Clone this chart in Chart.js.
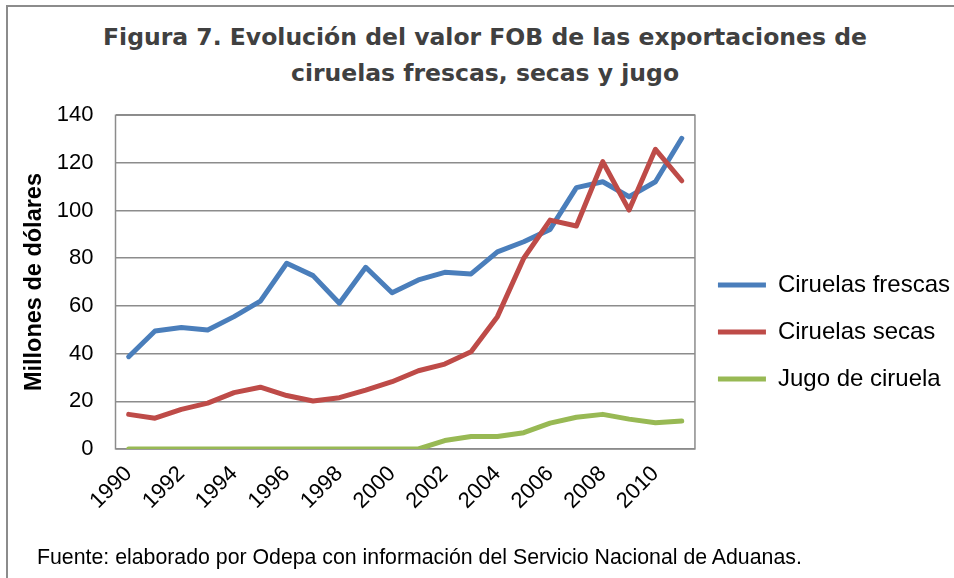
<!DOCTYPE html>
<html lang="es">
<head>
  <meta charset="UTF-8" />
  <title>Figura 7. Exportaciones de ciruelas</title>
  <script src="https://cdn.jsdelivr.net/npm/chart.js"></script>
  <style>
    html, body {
      margin: 0;
      padding: 0;
      background: #fff;
      overflow: hidden;
      width: 954px;
      height: 578px;
    }
    .frame {
      position: absolute;
      left: 6px;
      top: 5px;
      width: 960px;
      height: 590px;
      border-top: 2px solid #8c8c8c;
      border-left: 2px solid #8c8c8c;
    }
    .title {
      position: absolute;
      left: 0;
      top: 18.5px;
      width: 970px;
      text-align: center;
      font-family: "DejaVu Sans", sans-serif;
      font-weight: bold;
      font-size: 23.5px;
      line-height: 36px;
      color: #404040;
    }
    .chart-box {
      position: absolute;
      left: 0;
      top: 80px;
      width: 954px;
      height: 498px;
    }
    .source {
      position: absolute;
      left: 37px;
      top: 545px;
      font-family: "Liberation Sans", Arial, sans-serif;
      font-size: 21.3px;
      color: #000;
    }
  </style>
</head>
<body>
  <div class="frame"></div>
  <div class="title">Figura 7. Evolución del valor FOB de las exportaciones de<br>ciruelas frescas, secas y jugo</div>
  <div class="chart-box"><canvas id="chart"></canvas></div>
  <div class="source">Fuente: elaborado por Odepa con información del Servicio Nacional de Aduanas.</div>

  <script>
    // years and values (millones de dólares)
    const years = ['1990', '1991', '1992', '1993', '1994', '1995', '1996', '1997', '1998', '1999', '2000',
                   '2001', '2002', '2003', '2004', '2005', '2006', '2007', '2008', '2009', '2010', '2011'];
    const frescas = [38.7, 49.5, 50.9, 49.9, 55.5, 62.0, 77.9, 72.7, 61.1, 76.2, 65.5,
                     70.9, 74.1, 73.4, 82.7, 86.9, 92.1, 109.6, 112.1, 105.8, 112.1, 130.3];
    const secas = [14.5, 12.9, 16.6, 19.2, 23.6, 25.9, 22.4, 20.1, 21.5, 24.7, 28.2,
                   32.8, 35.6, 40.8, 55.5, 80.0, 96.0, 93.5, 120.5, 100.2, 125.7, 112.5];
    const jugo = [0, 0, 0, 0, 0, 0, 0, 0, 0, 0, 0,
                  0, 3.5, 5.2, 5.2, 6.8, 10.8, 13.3, 14.5, 12.5, 11.0, 11.7];
    const seriesNames = ['Ciruelas frescas', 'Ciruelas secas', 'Jugo de ciruela'];
    const yTicks = [0, 20, 40, 60, 80, 100, 120, 140];

    const axisFont = { family: '"Liberation Sans", Arial, sans-serif', size: 22 };

    // box around the plot area, like Excel
    const plotBorder = {
      id: 'plotBorder',
      beforeDatasetsDraw(chart) {
        const { ctx, chartArea: a } = chart;
        ctx.save();
        ctx.strokeStyle = '#8c8c8c';
        ctx.lineWidth = 1.5;
        ctx.strokeRect(a.left, a.top, a.right - a.left, a.bottom - a.top);
        ctx.restore();
      }
    };

    const line = (label, data, color, order) => ({
      label,
      data,
      borderColor: color,
      backgroundColor: color,
      borderWidth: 5,
      borderCapStyle: 'round',
      borderJoinStyle: 'round',
      pointRadius: 0,
      fill: false,
      tension: 0,
      order
    });

    new Chart(document.getElementById('chart'), {
      type: 'line',
      data: {
        labels: years,
        datasets: [
          line(seriesNames[0], frescas, '#4a7ebb', 3),
          line(seriesNames[1], secas, '#be4b48', 2),
          line(seriesNames[2], jugo, '#98b954', 1)
        ]
      },
      plugins: [plotBorder],
      options: {
        responsive: true,
        maintainAspectRatio: false,
        animation: false,
        layout: { padding: { left: 20, top: 0, right: -6, bottom: 51.8 } },
        plugins: {
          title: { display: false },
          tooltip: { enabled: false },
          legend: {
            position: 'right',
            maxWidth: 320,
            // blank legend title only pushes the entries down
            title: { display: true, text: ' ', font: { size: 10 }, padding: { top: 22.9, bottom: 22.9 } },
            labels: {
              usePointStyle: true,
              pointStyle: 'line',
              pointStyleWidth: 48,
              padding: 23,
              color: '#000',
              font: { family: '"Liberation Sans", Arial, sans-serif', size: 24 },
              sort: (a, b) => a.datasetIndex - b.datasetIndex
            }
          }
        },
        scales: {
          x: {
            offset: true,
            grid: { display: false, drawTicks: false },
            border: { display: false },
            ticks: {
              autoSkip: false,
              maxRotation: 45,
              minRotation: 45,
              padding: 12,
              color: '#000',
              font: axisFont,
              callback: function (value, index) {
                return index % 2 === 0 ? years[index] : '';
              }
            }
          },
          y: {
            min: 0,
            max: 140,
            afterBuildTicks: (scale) => { scale.ticks = yTicks.map(v => ({ value: v })); },
            grid: { color: '#8c8c8c', lineWidth: 1.5, drawTicks: false },
            border: { display: false },
            ticks: { padding: 22, color: '#000', font: axisFont },
            title: {
              display: true,
              text: 'Millones de dólares',
              color: '#000',
              padding: { top: 0, bottom: -13.4 },
              font: { family: '"Liberation Sans", Arial, sans-serif', size: 23.5, weight: 'bold' }
            }
          }
        }
      }
    });
  </script>
</body>
</html>
